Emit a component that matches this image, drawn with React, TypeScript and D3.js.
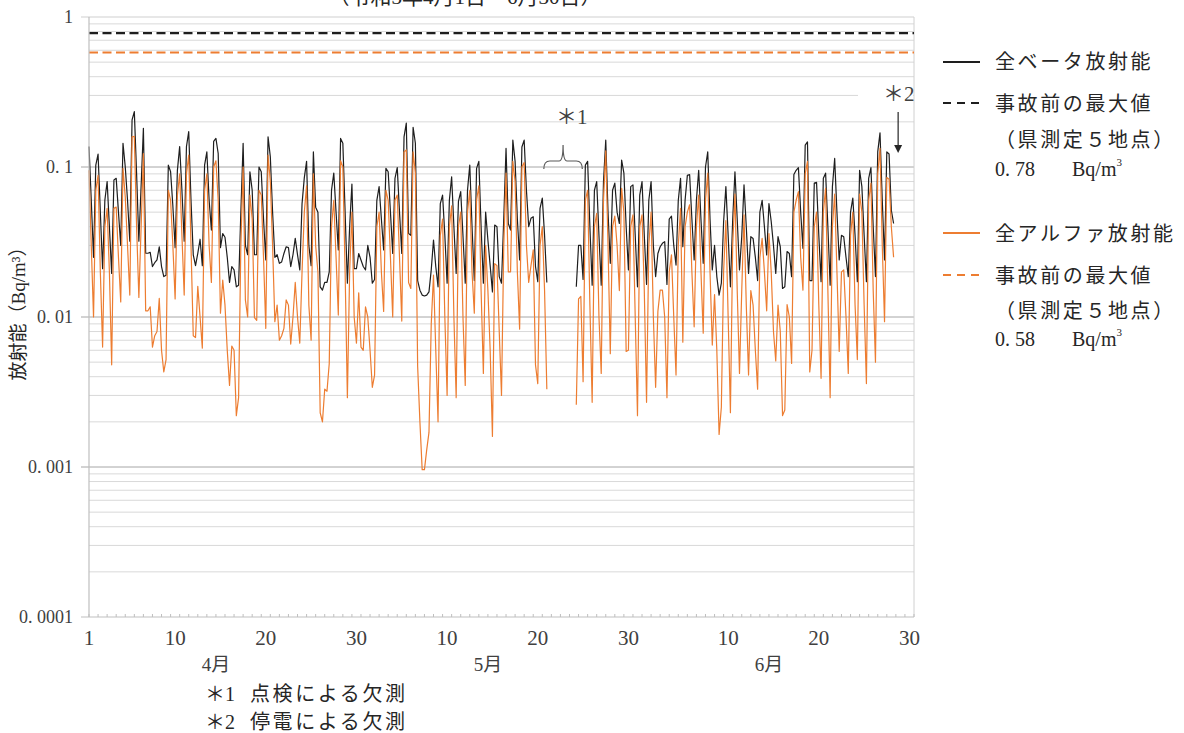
import React from 'react';
import * as d3 from 'd3';

// 6-hourly values, 4 per day, April 1 - June 30 (91 days), Bq/m3
const betaValues: (number | null)[] = [
  0.137, 0.06, 0.025, 0.103,
  0.122, 0.05, 0.021, 0.060,
  0.080, 0.04, 0.0195, 0.082,
  0.084, 0.05, 0.030, 0.144,
  0.100, 0.06, 0.032, 0.206,
  0.234, 0.09, 0.032, 0.075,
  0.181, 0.0266, 0.0266, 0.027,
  0.0217, 0.023, 0.024, 0.0294,
  0.0217, 0.0186, 0.019, 0.103,
  0.093, 0.055, 0.029, 0.095,
  0.137, 0.07, 0.032, 0.137,
  0.172, 0.06, 0.026, 0.022,
  0.0266, 0.033, 0.022, 0.103,
  0.126, 0.06, 0.038, 0.148,
  0.155, 0.123, 0.029, 0.036,
  0.034, 0.025, 0.017, 0.0217,
  0.0206, 0.0159, 0.0163, 0.05,
  0.144, 0.030, 0.026, 0.093,
  0.070, 0.026, 0.026, 0.100,
  0.093, 0.045, 0.024, 0.159,
  0.117, 0.05, 0.025, 0.026,
  0.0228, 0.0233, 0.0265, 0.0294,
  0.029, 0.0217, 0.026, 0.0334,
  0.026, 0.0206, 0.057, 0.085,
  0.109, 0.030, 0.022, 0.126,
  0.054, 0.050, 0.0159, 0.0151,
  0.017, 0.017, 0.020, 0.070,
  0.091, 0.05, 0.028, 0.155,
  0.144, 0.05, 0.0168, 0.04,
  0.077, 0.021, 0.021, 0.0265,
  0.024, 0.0217, 0.0206, 0.030,
  0.025, 0.0168, 0.0178, 0.060,
  0.074, 0.045, 0.028, 0.098,
  0.093, 0.05, 0.0265, 0.084,
  0.099, 0.05, 0.0265, 0.159,
  0.196, 0.036, 0.035, 0.184,
  0.144, 0.0175, 0.0151, 0.014,
  0.0138, 0.014, 0.0147, 0.0206,
  0.0326, 0.0217, 0.0159, 0.057,
  0.065, 0.035, 0.0168, 0.060,
  0.086, 0.04, 0.0195, 0.059,
  0.0685, 0.035, 0.0168, 0.070,
  0.103, 0.04, 0.0175, 0.098,
  0.109, 0.04, 0.0168, 0.050,
  0.0326, 0.022, 0.0147, 0.041,
  0.040, 0.0186, 0.0168, 0.0455,
  0.133, 0.042, 0.038, 0.151,
  0.109, 0.045, 0.024, 0.136,
  0.151, 0.07, 0.040, 0.0455,
  0.0466, 0.0217, 0.0172, 0.053,
  0.062, 0.035, 0.017, null,
  null, null, null, null,
  null, null, null, null,
  null, null, null, 0.0159,
  0.030, 0.030, 0.0178, 0.103,
  0.109, 0.04, 0.0163, 0.070,
  0.080, 0.035, 0.0163, 0.080,
  0.151, 0.05, 0.0228, 0.070,
  0.078, 0.05, 0.042, 0.111,
  0.091, 0.04, 0.0206, 0.074,
  0.076, 0.035, 0.0159, 0.065,
  0.080, 0.035, 0.0165, 0.060,
  0.080, 0.03, 0.0186, 0.0265,
  0.0294, 0.031, 0.0318, 0.0165,
  0.045, 0.047, 0.03, 0.0222,
  0.060, 0.084, 0.0294, 0.06,
  0.088, 0.089, 0.045, 0.024,
  0.060, 0.095, 0.045, 0.0228,
  0.100, 0.126, 0.045, 0.0206,
  0.030, 0.0186, 0.014, 0.0168,
  0.0433, 0.074, 0.035, 0.0159,
  0.0443, 0.093, 0.045, 0.0206,
  0.0343, 0.076, 0.04, 0.0195,
  0.0343, 0.0334, 0.025, 0.0175,
  0.050, 0.060, 0.04, 0.0259,
  0.057, 0.0433, 0.03, 0.0195,
  0.0343, 0.0294, 0.0155, 0.0159,
  0.0273, 0.0265, 0.0186, 0.089,
  0.095, 0.099, 0.05, 0.0287,
  0.140, 0.147, 0.0175, 0.0175,
  0.078, 0.079, 0.035, 0.0172,
  0.084, 0.091, 0.04, 0.0163,
  0.074, 0.114, 0.05, 0.024,
  0.035, 0.0343, 0.025, 0.0186,
  0.050, 0.062, 0.035, 0.0172,
  0.095, 0.074, 0.035, 0.0172,
  0.084, 0.099, 0.04, 0.0186,
  0.126, 0.169, 0.06, 0.024,
  0.126, 0.122, 0.0515, 0.042,
  null, null, null, null,
  null, null, null, null,
];

const alphaValues: (number | null)[] = [
  0.095, 0.03, 0.010, 0.07,
  0.088, 0.02, 0.0063, 0.04,
  0.053, 0.02, 0.0048, 0.053,
  0.054, 0.025, 0.0126, 0.098,
  0.063, 0.03, 0.014, 0.159,
  0.16, 0.04, 0.0135, 0.04,
  0.123, 0.011, 0.011, 0.0117,
  0.0063, 0.0075, 0.008, 0.0133,
  0.006, 0.0043, 0.0052, 0.07,
  0.06, 0.03, 0.0132, 0.065,
  0.09, 0.035, 0.014, 0.09,
  0.12, 0.03, 0.0075, 0.0073,
  0.016, 0.01, 0.0062, 0.07,
  0.09, 0.03, 0.017, 0.10,
  0.11, 0.06, 0.0106, 0.0176,
  0.012, 0.006, 0.0035, 0.0064,
  0.006, 0.0022, 0.0029, 0.03,
  0.10, 0.013, 0.01, 0.065,
  0.045, 0.0099, 0.0095, 0.07,
  0.065, 0.025, 0.0084, 0.12,
  0.08, 0.03, 0.0093, 0.012,
  0.007, 0.0075, 0.0084, 0.013,
  0.012, 0.0066, 0.010, 0.017,
  0.01, 0.0067, 0.02, 0.05,
  0.075, 0.012, 0.007, 0.09,
  0.03, 0.02, 0.0023, 0.002,
  0.0033, 0.0032, 0.0049, 0.04,
  0.06, 0.025, 0.0103, 0.11,
  0.10, 0.02, 0.0029, 0.02,
  0.05, 0.01, 0.0067, 0.0145,
  0.0063, 0.006, 0.0117, 0.01,
  0.006, 0.0034, 0.0041, 0.04,
  0.05, 0.02, 0.0109, 0.07,
  0.06, 0.025, 0.010, 0.06,
  0.065, 0.025, 0.0094, 0.126,
  0.13, 0.017, 0.0155, 0.126,
  0.091, 0.0047, 0.002, 0.00096,
  0.00096, 0.0013, 0.0017, 0.009,
  0.019, 0.006, 0.002, 0.035,
  0.045, 0.01, 0.003, 0.04,
  0.055, 0.01, 0.0029, 0.04,
  0.05, 0.01, 0.0035, 0.05,
  0.07, 0.02, 0.0106, 0.06,
  0.075, 0.015, 0.0042, 0.03,
  0.015, 0.006, 0.0016, 0.0227,
  0.022, 0.008, 0.003, 0.03,
  0.091, 0.02, 0.02, 0.109,
  0.08, 0.02, 0.0083, 0.10,
  0.107, 0.03, 0.017, 0.022,
  0.028, 0.0048, 0.0036, 0.03,
  0.04, 0.015, 0.0033, null,
  null, null, null, null,
  null, null, null, null,
  null, null, null, 0.0026,
  0.0132, 0.0137, 0.0037, 0.06,
  0.07, 0.012, 0.0027, 0.04,
  0.049, 0.01, 0.0042, 0.06,
  0.128, 0.03, 0.0057, 0.04,
  0.047, 0.03, 0.015, 0.072,
  0.05, 0.0059, 0.006, 0.04,
  0.048, 0.01, 0.0022, 0.04,
  0.048, 0.015, 0.0027, 0.03,
  0.05, 0.01, 0.0034, 0.0109,
  0.0151, 0.0151, 0.01, 0.0029,
  0.02, 0.026, 0.01, 0.0041,
  0.03, 0.053, 0.0068, 0.04,
  0.05, 0.056, 0.02, 0.0086,
  0.04, 0.065, 0.02, 0.0078,
  0.06, 0.091, 0.02, 0.0065,
  0.0141, 0.006, 0.00165, 0.0025,
  0.02, 0.044, 0.01, 0.0023,
  0.03, 0.066, 0.015, 0.0042,
  0.015, 0.048, 0.012, 0.0041,
  0.015, 0.012, 0.006, 0.0033,
  0.025, 0.0334, 0.02, 0.011,
  0.036, 0.02, 0.008, 0.0051,
  0.012, 0.008, 0.0022, 0.0024,
  0.0121, 0.01, 0.0049, 0.05,
  0.06, 0.0685, 0.025, 0.0151,
  0.09, 0.109, 0.0043, 0.006,
  0.04, 0.050, 0.012, 0.0039,
  0.05, 0.072, 0.015, 0.0029,
  0.04, 0.066, 0.02, 0.0059,
  0.02, 0.0206, 0.01, 0.0042,
  0.035, 0.050, 0.012, 0.0052,
  0.066, 0.05, 0.012, 0.0036,
  0.06, 0.078, 0.015, 0.005,
  0.09, 0.133, 0.03, 0.0093,
  0.085, 0.083, 0.04, 0.025,
  null, null, null, null,
  null, null, null, null,
];

const betaPreMax = 0.78;
const alphaPreMax = 0.58;

const yTickValues = [1, 0.1, 0.01, 0.001, 0.0001];
const yTickLabels = ['1', '0. 1', '0. 01', '0. 001', '0. 0001'];
const xTickDays = [1, 10, 20, 30, 40, 50, 60, 71, 81, 91];
const xTickLabels = ['1', '10', '20', '30', '10', '20', '30', '10', '20', '30'];
const monthLabels = ['4月', '5月', '6月'];
const monthLabelDays = [15, 45, 76];
const nDays = 91;
const perDay = 4;

const BLACK = '#1e1e1e';
const ORANGE = '#ED7D31';
const FONT = "'Liberation Serif', 'Noto Sans CJK JP', serif";
const TEXT = '#262626';

export default function App() {
  const W = 1184, H = 733;
  const left = 89, right = 914, top = 17, bottom = 617;
  const x = d3.scaleLinear().domain([0, nDays * perDay]).range([left, right]);
  const y = d3.scaleLog().domain([0.0001, 1]).range([bottom, top]);

  const line = d3
    .line<number | null>()
    .defined((d) => d != null)
    .x((_, i) => x(i))
    .y((d) => y(d as number));

  const minor: number[] = [];
  for (let e = -4; e < 0; e++) for (let m = 2; m <= 9; m++) minor.push(m * Math.pow(10, e));

  const dayBoundaries = d3.range(0, nDays + 1);
  const dayX = (d: number) => x((d - 1) * perDay);
  const tickX = (d: number) => (d === 1 ? x(0) : x((d - 1) * perDay + 2));

  const legendX1 = 943, legendX2 = 980, legendTextX = 995;
  const legendRows = [
    { y: 62, kind: 'solid', color: BLACK, lines: [{ t: '全ベータ放射能', y: 62 }] },
    {
      y: 103, kind: 'dash', color: BLACK,
      lines: [{ t: '事故前の最大値', y: 104 }, { t: '（県測定５地点）', y: 140 }],
      val: { t: '0. 78', y: 169 },
    },
    { y: 233, kind: 'solid', color: ORANGE, lines: [{ t: '全アルファ放射能', y: 234 }] },
    {
      y: 275, kind: 'dash', color: ORANGE,
      lines: [{ t: '事故前の最大値', y: 276 }, { t: '（県測定５地点）', y: 311 }],
      val: { t: '0. 58', y: 339 },
    },
  ];

  // *1 brace over the gap
  const gapStart = x(202) - 3, gapEnd = x(215) + 6;
  const gapMid = (gapStart + gapEnd) / 2;
  const braceY = y(0.1) + 2;
  const braceTop = braceY - 12;
  const bracePath = `M${gapStart},${braceY} Q${gapStart},${braceY - 8} ${gapStart + 6},${braceY - 8} L${gapMid - 4},${braceY - 8} Q${gapMid},${braceY - 8} ${gapMid},${braceTop - 12} Q${gapMid},${braceY - 8} ${gapMid + 4},${braceY - 8} L${gapEnd - 6},${braceY - 8} Q${gapEnd},${braceY - 8} ${gapEnd},${braceY}`;

  const arrowX = x(357);

  return (
    <svg width={W} height={H} style={{ position: 'absolute', left: 0, top: 0, background: '#fff' }} fontFamily={FONT}>
      <rect x={0} y={0} width={W} height={H} fill="#fff" />
      {/* title (partly cut at top, as in the source image) */}
      <text x={465} y={4} textAnchor="middle" fontSize={21} fill={TEXT}>（令和3年4月1日～6月30日）</text>

      {/* minor grid */}
      {minor.map((v, i) => (
        <line key={'m' + i} x1={left} x2={right} y1={y(v)} y2={y(v)} stroke="#d9d9d9" strokeWidth={1} />
      ))}
      {/* white box behind *2 label */}
      <rect x={858} y={80} width={55} height={27} fill="#fff" />
      {/* major grid */}
      {yTickValues.slice(0, 4).map((v, i) => (
        <line key={'g' + i} x1={left - 8} x2={right} y1={y(v)} y2={y(v)} stroke={i === 0 ? '#cfcfcf' : '#a6a6a6'} strokeWidth={1} />
      ))}
      {/* right border */}
      <line x1={right} x2={right} y1={top} y2={bottom} stroke="#d0d0d0" strokeWidth={1} />

      {/* pre-accident maxima */}
      <line x1={left} x2={right} y1={y(betaPreMax)} y2={y(betaPreMax)} stroke={BLACK} strokeWidth={2.2} strokeDasharray="9,4.5" />
      <line x1={left} x2={right} y1={y(alphaPreMax)} y2={y(alphaPreMax)} stroke={ORANGE} strokeWidth={2.2} strokeDasharray="9,4.5" />

      {/* data */}
      <path d={line(betaValues) || ''} fill="none" stroke={BLACK} strokeWidth={1.2} strokeLinejoin="round" />
      <path d={line(alphaValues) || ''} fill="none" stroke={ORANGE} strokeWidth={1.2} strokeLinejoin="round" />

      {/* axes */}
      <line x1={left} x2={left} y1={top} y2={bottom} stroke="#bfbfbf" strokeWidth={1.2} />
      <line x1={left - 8} x2={right} y1={bottom} y2={bottom} stroke="#bfbfbf" strokeWidth={1.2} />
      {dayBoundaries.map((d) => (
        <line key={'t' + d} x1={x(d * perDay)} x2={x(d * perDay)} y1={bottom - 3} y2={bottom} stroke="#bfbfbf" strokeWidth={1} />
      ))}

      {/* y tick labels */}
      {yTickValues.map((v, i) => (
        <text key={'yl' + i} x={73} y={y(v)} dy="0.35em" textAnchor="end" fontSize={18} fill="#404040">{yTickLabels[i]}</text>
      ))}
      {/* x tick labels */}
      {xTickDays.map((d, i) => (
        <text key={'xl' + i} x={tickX(d)} y={645} textAnchor="middle" fontSize={21} fill="#404040">{xTickLabels[i]}</text>
      ))}
      {monthLabels.map((m, i) => (
        <text key={'mo' + i} x={dayX(monthLabelDays[i])} y={671} textAnchor="middle" fontSize={19} fill="#404040">{m}</text>
      ))}

      {/* y axis title */}
      <text transform={`translate(18,${y(0.01) - 8}) rotate(-90)`} textAnchor="middle" dominantBaseline="central" fontSize={19} fill={TEXT}>放射能（Bq/m³）</text>

      {/* notes */}
      <text x={205} y={701} fontSize={20} fill={TEXT}>＊1</text>
      <text x={250} y={701} fontSize={20} letterSpacing={2.6} fill={TEXT}>点検による欠測</text>
      <text x={205} y={729} fontSize={20} fill={TEXT}>＊2</text>
      <text x={250} y={729} fontSize={20} letterSpacing={2.6} fill={TEXT}>停電による欠測</text>

      {/* *1 annotation */}
      <path d={bracePath} fill="none" stroke="#595959" strokeWidth={1.2} />
      <text x={gapMid - 7} y={124} fontSize={21} fill="#404040">＊1</text>

      {/* *2 annotation */}
      <text x={883} y={101} fontSize={21} fill="#404040">＊2</text>
      <line x1={arrowX} x2={arrowX} y1={112} y2={146} stroke="#262626" strokeWidth={1.2} />
      <path d={`M${arrowX - 4},${145} L${arrowX + 4},${145} L${arrowX},${153} Z`} fill="#262626" />

      {/* legend */}
      {legendRows.map((r, i) => (
        <g key={'lg' + i}>
          <line x1={legendX1} x2={legendX2} y1={r.y} y2={r.y} stroke={r.color} strokeWidth={2.2} strokeDasharray={r.kind === 'dash' ? '8,6' : undefined} />
          {r.lines.map((l, j) => (
            <text key={j} x={legendTextX} y={l.y} dy="0.36em" fontSize={20} letterSpacing={2.6} fill={TEXT}>{l.t}</text>
          ))}
          {r.val && (
            <g>
              <text x={legendTextX} y={r.val.y} dy="0.36em" fontSize={20} fill={TEXT}>{r.val.t}</text>
              <text x={1072} y={r.val.y} dy="0.36em" fontSize={20} fill={TEXT}>Bq/m<tspan dy={-10} fontSize={11}>3</tspan></text>
            </g>
          )}
        </g>
      ))}
    </svg>
  );
}
